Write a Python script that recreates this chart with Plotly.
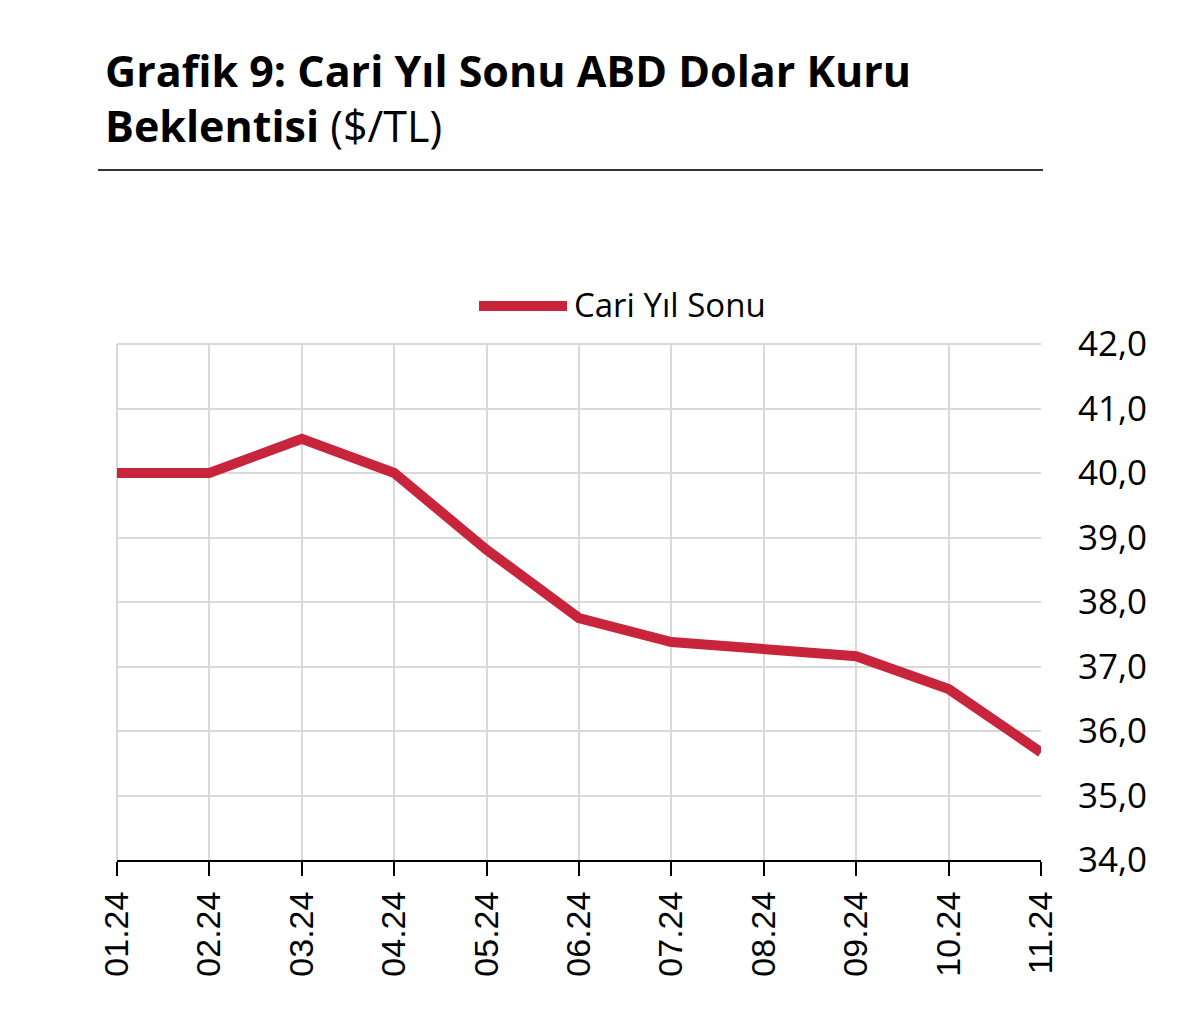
import plotly.graph_objects as go

months = ["01.24", "02.24", "03.24", "04.24", "05.24", "06.24", "07.24", "08.24", "09.24", "10.24", "11.24"]
values = [40.0, 40.0, 40.53, 40.0, 38.81, 37.75, 37.38, 37.27, 37.16, 36.65, 35.67]
y_ticks = [34, 35, 36, 37, 38, 39, 40, 41, 42]
y_labels = ["34,0", "35,0", "36,0", "37,0", "38,0", "39,0", "40,0", "41,0", "42,0"]

idx = list(range(len(months)))
red = "#C8253D"

# page body has an 8px margin; compensate so the plot area lands at x 117-1041, y 344-860
L, T, R, B = 109, 336, 167, 180
PW, PH = 1200 - L - R, 1032 - T - B


def px(xpix):
    return (xpix - 8 - L) / PW


def py(ypix):
    return 1 - (ypix - 8 - T) / PH


fig = go.Figure()
fig.add_trace(go.Scatter(x=idx, y=values, mode="lines", name="Cari Yıl Sonu",
                         line=dict(color=red, width=10), showlegend=False, cliponaxis=False))

fig.update_layout(
    width=1200, height=1032,
    margin=dict(l=L, r=R, t=T, b=B),
    paper_bgcolor="white", plot_bgcolor="white",
    showlegend=False,
    xaxis=dict(range=[0, 10], tickvals=idx, ticktext=months, tickangle=-90,
               showgrid=True, gridcolor="#D9D9D9", gridwidth=2,
               showline=True, linecolor="black", linewidth=2,
               ticks="outside", ticklen=14, tickwidth=2, tickcolor="black",
               ticklabelstandoff=2,
               tickfont=dict(family="Liberation Sans", size=34, color="black"),
               zeroline=False, fixedrange=True),
    yaxis=dict(range=[34, 42], tickvals=y_ticks, ticktext=y_labels, side="right",
               showgrid=True, gridcolor="#D9D9D9", gridwidth=2, zeroline=False,
               ticks="", ticklabelstandoff=36,
               tickfont=dict(family="Open Sans", size=35, color="black")),
)

# left and top border lines (gridlines at edges)
fig.add_shape(type="line", xref="paper", yref="paper", x0=0, x1=0, y0=0, y1=1,
              line=dict(color="#D9D9D9", width=2), layer="below")
fig.add_shape(type="line", xref="paper", yref="paper", x0=0, x1=1, y0=1, y1=1,
              line=dict(color="#D9D9D9", width=2), layer="below")

# Title
fig.add_annotation(xref="paper", yref="paper", x=px(103), y=py(70), xanchor="left", yanchor="middle",
                   text="<b>Grafik 9: Cari Yıl Sonu ABD Dolar Kuru</b>", showarrow=False,
                   font=dict(family="Open Sans", size=43, color="black"))
fig.add_annotation(xref="paper", yref="paper", x=px(103), y=py(125), xanchor="left", yanchor="middle",
                   text="<b>Beklentisi</b> ($/TL)", showarrow=False,
                   font=dict(family="Open Sans", size=43, color="black"))
# separator line
fig.add_shape(type="line", xref="paper", yref="paper",
              x0=px(98), x1=px(1043), y0=py(170), y1=py(170),
              line=dict(color="#333333", width=2))

# Legend
fig.add_shape(type="line", xref="paper", yref="paper",
              x0=px(479), x1=px(567), y0=py(306), y1=py(306),
              line=dict(color=red, width=10))
fig.add_annotation(xref="paper", yref="paper", x=px(572), y=py(304), xanchor="left", yanchor="middle",
                   text="Cari Yıl Sonu", showarrow=False,
                   font=dict(family="Open Sans", size=33, color="black"))

fig.write_html("out.html")
